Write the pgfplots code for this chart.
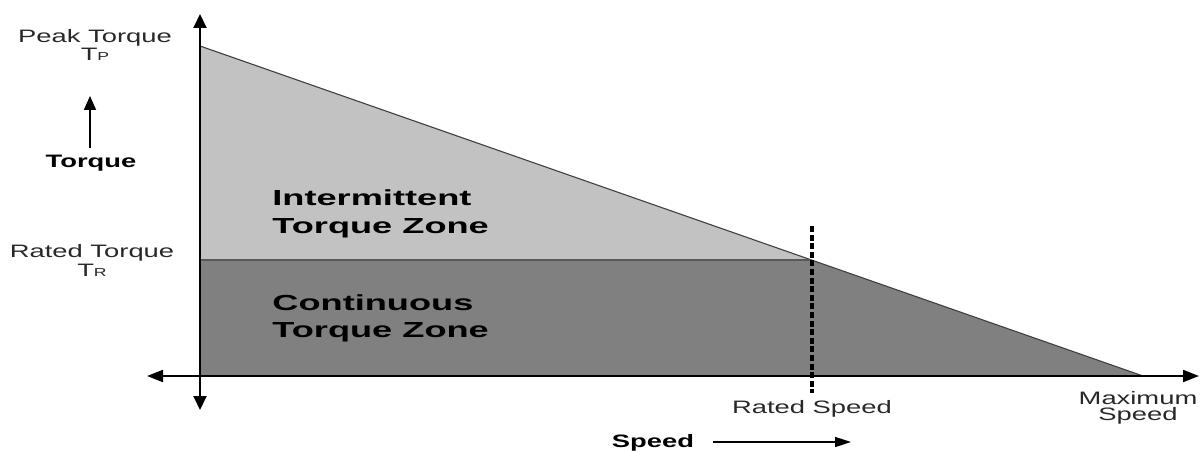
\documentclass[border=0pt]{standalone}
\usepackage{pgfplots}
\pgfplotsset{compat=1.18}
\usepackage{fontspec}
\setmainfont{Liberation Sans}
\usetikzlibrary{arrows.meta}
\definecolor{lightzone}{RGB}{194,194,194}
\definecolor{darkzone}{RGB}{128,128,128}
\definecolor{txt}{RGB}{40,40,40}
\newcommand{\sm}[1]{\scalebox{1.52}[1]{\fontsize{9}{10}\selectfont #1}}
\newcommand{\smb}[1]{\scalebox{1.52}[1]{\fontsize{9}{10}\selectfont\bfseries #1}}
\newcommand{\bg}[1]{\scalebox{1.66}[1]{\fontsize{10.9}{12}\selectfont\bfseries #1}}
\newcommand{\sub}[1]{{\fontsize{5.8}{6}\selectfont #1}}
\begin{document}
\begin{tikzpicture}
\begin{axis}[
  scale only axis, width=601pt, height=225pt,
  xmin=0, xmax=1202, ymin=0, ymax=450,
  hide axis, clip=false,
]
\coordinate (bl) at (axis cs:0,0);
\coordinate (tr) at (axis cs:1202,450);
% zones
\addplot[fill=lightzone, draw=none] coordinates {(200,404) (811,190) (200,190)} -- cycle;
\addplot[fill=darkzone, draw=none] coordinates {(200,190) (811,190) (1143,74) (200,74)} -- cycle;
\addplot[draw=black!75, line width=0.55pt] coordinates {(200,404) (1143,74)};
\addplot[draw=black!65, line width=0.6pt] coordinates {(200,190) (811,190)};
% axes
\addplot[black, line width=1pt, {Triangle[width=6.5pt,length=7pt]}-{Triangle[width=6.5pt,length=7pt]}] coordinates {(200,40) (200,436)};
\addplot[black, line width=1pt, {Triangle[width=6pt,length=8pt]}-{Triangle[width=6pt,length=8pt]}] coordinates {(147,74) (1199,74)};
% rated speed dashed
\addplot[black, line width=1.6pt, dash pattern=on 3pt off 1.3pt] coordinates {(812,224) (812,57)};
% small arrows
\addplot[black, line width=0.8pt, -{Triangle[width=6pt,length=7pt]}] coordinates {(90,302) (90,354)};
\addplot[black, line width=0.8pt, -{Triangle[width=5pt,length=8pt]}] coordinates {(713,8) (851,8)};
% labels
\node[anchor=base, text=txt, inner sep=0pt] at (axis cs:95,407) {\sm{Peak Torque}};
\node[anchor=base, text=txt, inner sep=0pt] at (axis cs:95,389) {\sm{T\sub{P}}};
\node[anchor=base, text=black, inner sep=0pt] at (axis cs:91,282) {\smb{Torque}};
\node[anchor=base, text=txt, inner sep=0pt] at (axis cs:92,192) {\sm{Rated Torque}};
\node[anchor=base, text=txt, inner sep=0pt] at (axis cs:92,174) {\sm{T\sub{R}}};
\node[anchor=base west, text=black, inner sep=0pt] at (axis cs:272,244) {\bg{Intermittent}};
\node[anchor=base west, text=black, inner sep=0pt] at (axis cs:272,217) {\bg{Torque Zone}};
\node[anchor=base west, text=black, inner sep=0pt] at (axis cs:272,140) {\bg{Continuous}};
\node[anchor=base west, text=black, inner sep=0pt] at (axis cs:272,113) {\bg{Torque Zone}};
\node[anchor=base, text=txt, inner sep=0pt] at (axis cs:812,37) {\sm{Rated Speed}};
\node[anchor=base, text=txt, inner sep=0pt] at (axis cs:1138,46) {\sm{Maximum}};
\node[anchor=base, text=txt, inner sep=0pt] at (axis cs:1138,30) {\sm{Speed}};
\node[anchor=base, text=black, inner sep=0pt] at (axis cs:653,3) {\smb{Speed}};
\end{axis}
\pgfresetboundingbox
\path[use as bounding box] (bl) rectangle (tr);
\end{tikzpicture}
\end{document}
